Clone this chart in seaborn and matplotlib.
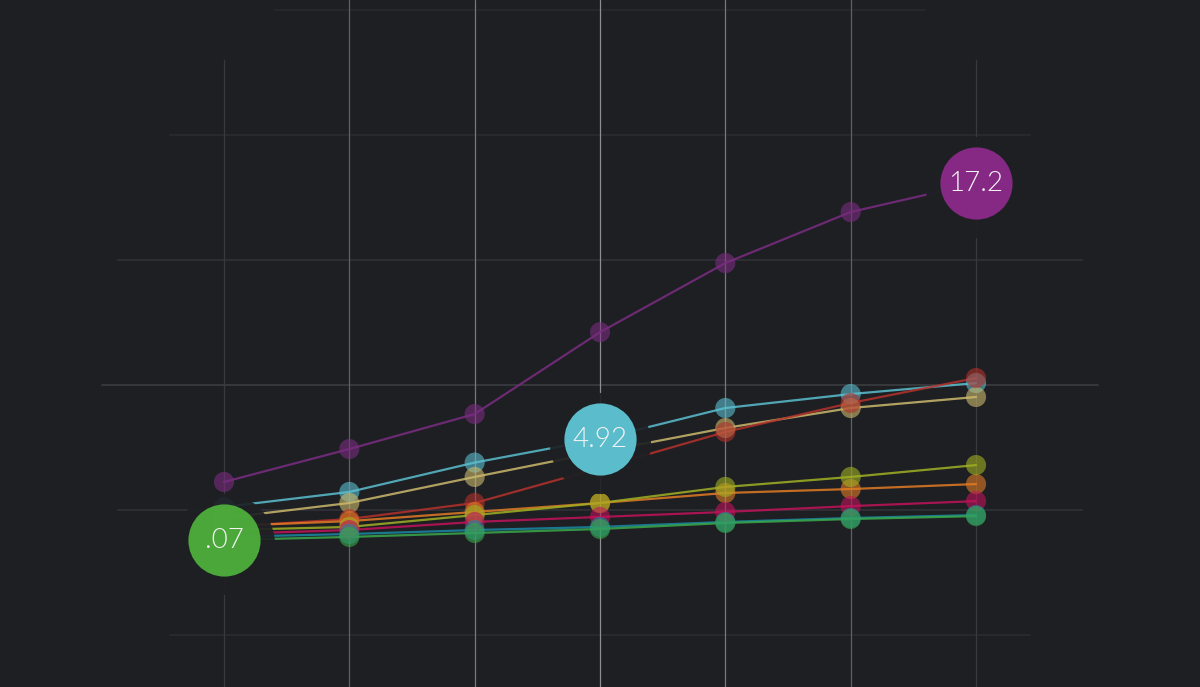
import numpy as np
import pandas as pd
import seaborn as sns
import matplotlib.pyplot as plt
from matplotlib.transforms import offset_copy

sns.set_theme(style="dark")
plt.rcParams['font.family'] = ['Lato', 'DejaVu Sans']

BG = '#1d1f23'

# values (7 steps per series)
steps = [0, 1, 2, 3, 4, 5, 6]
purple = [2.86, 4.44, 6.12, 10.05, 13.37, 15.82, 17.2]
cyan = [1.66, 2.38, 3.79, 4.92, 6.41, 7.08, 7.61]
tan = [1.13, 1.85, 3.10, 4.30, 5.45, 6.41, 6.94]
red = [0.70, 1.08, 1.85, 3.53, 5.26, 6.65, 7.85]
orange = [0.74, 0.98, 1.42, 1.85, 2.33, 2.52, 2.76]
olive = [0.55, 0.70, 1.27, 1.85, 2.62, 3.10, 3.67]
crimson = [0.36, 0.55, 0.94, 1.18, 1.42, 1.70, 1.94]
teal = [0.22, 0.36, 0.55, 0.70, 0.94, 1.13, 1.27]
green = [0.07, 0.22, 0.41, 0.60, 0.89, 1.08, 1.22]

series = {
    'purple': purple, 'cyan': cyan, 'tan': tan, 'red': red, 'orange': orange,
    'olive': olive, 'crimson': crimson, 'teal': teal, 'green': green,
}
palette = {
    'purple': '#7a2c80', 'cyan': '#5bbfcf', 'tan': '#cbb96c', 'red': '#b5312b',
    'orange': '#e07b24', 'olive': '#a0b022', 'crimson': '#c0135a',
    'teal': '#1b87a3', 'green': '#3aa84a',
}
bubble_colors = {'purple': '#8a2a8a', 'cyan': '#5ec4d4', 'green': '#4eae3c'}

# highlighted points: series, step, label
hl_series = ['green', 'cyan', 'purple']
hl_steps = [0, 3, 6]
hl_labels = ['.07', '4.92', '17.2']

rows = []
for name, vals in series.items():
    for s, v in zip(steps, vals):
        rows.append({'step': s, 'value': v, 'series': name})
df = pd.DataFrame(rows)

fig = plt.figure(figsize=(12, 6.87), dpi=100)
fig.patch.set_facecolor(BG)
ax = fig.add_axes([0, 0, 1, 1])
ax.set_facecolor(BG)
ax.set_xlim(-1.787, 7.787)
ax.set_ylim(-6.985, 26.0)
for sp in ax.spines.values():
    sp.set_visible(False)
ax.set_xticks([])
ax.set_yticks([])

# fading grid
grid_rows = np.arange(-4.5, 26, 6)
row_span = [(0.142, 0.858, '#2a2c31'), (0.098, 0.902, '#303237'),
            (0.085, 0.915, '#3a3c41'), (0.098, 0.902, '#303237'),
            (0.142, 0.858, '#2a2c31'), (0.229, 0.771, '#27292e')]
for gy, (x0, x1, c) in zip(grid_rows, row_span):
    ax.axhline(gy, xmin=x0, xmax=x1, color=c, lw=1.2, zorder=0)
col_style = ['#37393e', '#5e6065', '#76787c', '#8c8e92', '#76787c', '#5e6065', '#37393e']
for s, c in zip(steps, col_style):
    top = 0.913 if s in (0, 6) else 1.0
    ax.axvline(s, ymin=0, ymax=top, color=c, lw=0.9, zorder=0)

sns.lineplot(data=df, x='step', y='value', hue='series', palette=palette,
             lw=1.6, alpha=0.85, legend=False, ax=ax, zorder=2, sort=False)
sns.scatterplot(data=df, x='step', y='value', hue='series', palette=palette,
                s=210, alpha=0.6, linewidth=0, legend=False, ax=ax, zorder=3)

shadow_tr = offset_copy(ax.transData, fig=fig, x=0, y=-4, units='dots')
for name, st, lab in zip(hl_series, hl_steps, hl_labels):
    v = series[name][st]
    ax.scatter([st], [v], s=5300, color=BG, alpha=0.92, linewidth=0,
               zorder=4, transform=shadow_tr)
    ax.scatter([st], [v], s=2700, color=bubble_colors[name], alpha=0.96,
               linewidth=0, zorder=5)
    ax.text(st, v, lab, ha='center', va='center', color='#f4f4f4',
            fontsize=20, fontweight=300, zorder=6)

fig.savefig('out.png', dpi=100, facecolor=BG)
